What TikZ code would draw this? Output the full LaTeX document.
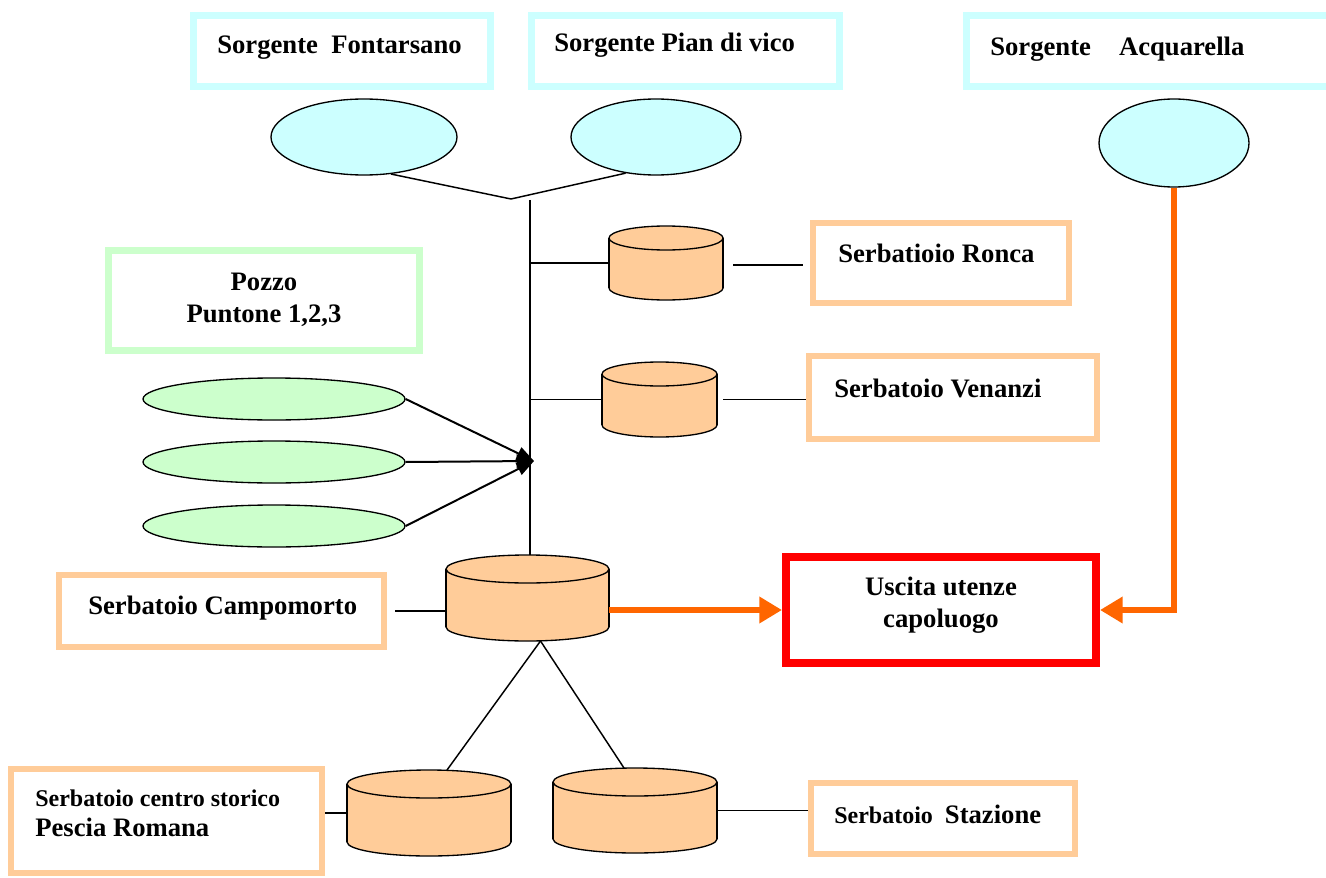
\documentclass[tikz,border=0pt]{standalone}
\usepackage{fontspec}
\setmainfont{Liberation Serif}
\usetikzlibrary{shapes.geometric,arrows.meta,calc,fit}

\definecolor{srccyan}{HTML}{CCFFFF}
\definecolor{wellgreen}{HTML}{CCFFCC}
\definecolor{tankorange}{HTML}{FFCC99}
\definecolor{pipeorange}{HTML}{FF6600}
\definecolor{outred}{HTML}{FF0000}

\tikzset{
  frame/.style={draw=#1, line width=5pt, inner sep=0pt, fill=white},
  cyanframe/.style={frame=srccyan},
  greenframe/.style={frame=wellgreen},
  orangeframe/.style={frame=tankorange, line width=4.5pt},
  redframe/.style={frame=outred, line width=6pt},
  lbl/.style={inner sep=0pt, font=\bfseries\fontsize{20}{24}\selectfont},
  smalllbl/.style={inner sep=0pt, font=\bfseries\fontsize{18}{22}\selectfont},
  source/.style={ellipse, draw=black, line width=1pt, fill=srccyan, inner sep=0pt},
  well/.style={ellipse, draw=black, line width=1pt, fill=wellgreen, inner sep=0pt,
    minimum width=196.5pt, minimum height=31.5pt},
  tank/.style={draw=black, line width=1pt, fill=tankorange},
  pipe/.style={line width=1.1pt, black},
  feed/.style={line width=1.5pt, black, -{Triangle[length=13pt,width=10pt]}},
  mainpipe/.style={line width=5pt, pipeorange, -{Triangle[length=17pt,width=19pt]}},
}

% storage tank: name, centre x, top y, bottom y, x radius, y radius
\newcommand\tanksketch[6]{%
  \filldraw[tank] (#2,#4-#6) ellipse[x radius=#5, y radius=#6];
  \fill[tankorange] (#2-#5,#3+#6) rectangle (#2+#5,#4-#6);
  \draw[line width=1pt] (#2-#5,#3+#6) -- (#2-#5,#4-#6) (#2+#5,#3+#6) -- (#2+#5,#4-#6);
  \filldraw[tank] (#2,#3+#6) ellipse[x radius=#5, y radius=#6];
  \node[inner sep=0pt, outer sep=0pt, fit={(#2-#5,#3) (#2+#5,#4)}] (#1) {};
}

\begin{document}
\begin{tikzpicture}[x=0.75pt,y=-0.75pt]
\clip (0,0) rectangle (1326,877);
\useasboundingbox (0,0) rectangle (1326,877);
\fill[white] (0,0) rectangle (1326,877);

% springs
\node[cyanframe, fit={(193.5,15.5) (490.5,86.5)}] (fontbox) {};
\node[lbl, anchor=base west] (fonttxt) at (217,54) {Sorgente\ \ Fontarsano};
\node[cyanframe, fit={(531.5,15.5) (839.5,86.5)}] (pianbox) {};
\node[lbl, anchor=base west] (piantxt) at (554,52) {Sorgente Pian di vico};
\node[cyanframe, fit={(966.5,15.5) (1340,86.5)}] (acqbox) {};
\node[lbl, anchor=base west] (acqtxt) at (990,56) {Sorgente\hspace{21pt}Acquarella};

\node[source, minimum width=139.5pt, minimum height=57pt] (font) at (364,137) {};
\node[source, minimum width=127.5pt, minimum height=57pt] (pian) at (656,137) {};
\node[source, minimum width=112.5pt, minimum height=66pt] (acq) at (1174,143) {};

% wells
\node[greenframe, fit={(108.5,250.5) (419.5,350.5)}] (pozzobox) {};
\node[lbl, align=center, anchor=base] (pozzotxt) at (264,322) {Pozzo\\Puntone 1,2,3};
\node[well] (w1) at (274,399) {};
\node[well] (w2) at (274,462) {};
\node[well] (w3) at (274,526) {};

% tanks
\tanksketch{ronca}{666}{226}{300}{57}{12}
\tanksketch{venanzi}{659.5}{362}{437}{57.5}{12}
\tanksketch{campo}{527.5}{555}{641}{81.5}{14}
\tanksketch{pesc}{429}{770}{856}{82}{14}
\tanksketch{staz}{635}{768}{853}{82}{14}

\node[orangeframe, fit={(813,223) (1069,303)}] (roncabox) {};
\node[lbl, anchor=base west] (roncatxt) at (838,262) {Serbatioio Ronca};
\node[orangeframe, fit={(809,356) (1097,439)}] (venbox) {};
\node[lbl, anchor=base west] (ventxt) at (834,397) {Serbatoio Venanzi};
\node[orangeframe, fit={(59,575) (384,647)}] (campobox) {};
\node[lbl, anchor=base west] (campotxt) at (88,614) {Serbatoio Campomorto};
\node[orangeframe, fit={(11,769) (322,873)}] (pescbox) {};
\node[smalllbl, anchor=base west] (pesctxt1) at (35,806) {Serbatoio centro storico};
\node[lbl, anchor=base west] (pesctxt2) at (35,836) {Pescia Romana};
\node[orangeframe, fit={(811,783) (1075,854)}] (stazbox) {};
\node[lbl, anchor=base west] (staztxt) at (834,823)
  {{\fontsize{18}{22}\selectfont Serbatoio\ \ }Stazione};

% outlet
\node[redframe, fit={(786,557) (1096,663)}] (uscita) {};
\node[lbl, align=center, anchor=base] (uscitatxt) at (941,627) {Uscita utenze\\capoluogo};

% collector pipes
\coordinate (vjoin) at (511,199);
\coordinate (trunktop) at (530,200);
\coordinate (merge) at (534,461);
\draw[pipe] (font.-54) -- (vjoin) -- (pian.-130);
\draw[pipe] (trunktop) -- (trunktop |- campo.north);
\draw[pipe] (trunktop |- ronca.west) -- (ronca.west);
\draw[pipe] (trunktop |- venanzi.west) -- (venanzi.west);
\draw[pipe] ($(ronca.east)+(10,2)$) -- ($(roncabox.west)+(-7,2)$);
\draw[pipe] ($(venanzi.east)+(6,0)$) -- (venanzi.east -| venbox.west);
\draw[pipe] ($(campobox.east)+(8,0)$) -- (campobox.east -| campo.west);
\draw[pipe] ($(campo.south)+(13,0)$) -- ($(pesc.north)+(18,0)$);
\draw[pipe] ($(campo.south)+(13,0)$) -- ($(staz.north)+(-11,0)$);
\draw[pipe] (pescbox.east |- pesc.west) -- (pesc.west);
\draw[pipe] (staz.east) -- (staz.east -| stazbox.west);

% wells feeding the trunk
\draw[feed] (w1.east) -- (merge);
\draw[feed] (w2.east) -- (merge);
\draw[feed] (w3.east) -- (merge);

% supply to the outlet
\draw[mainpipe] (uscita.west -| campo.east) -- (uscita.west);
\draw[mainpipe] (acq.south) |- (uscita.east);
\end{tikzpicture}
\end{document}
